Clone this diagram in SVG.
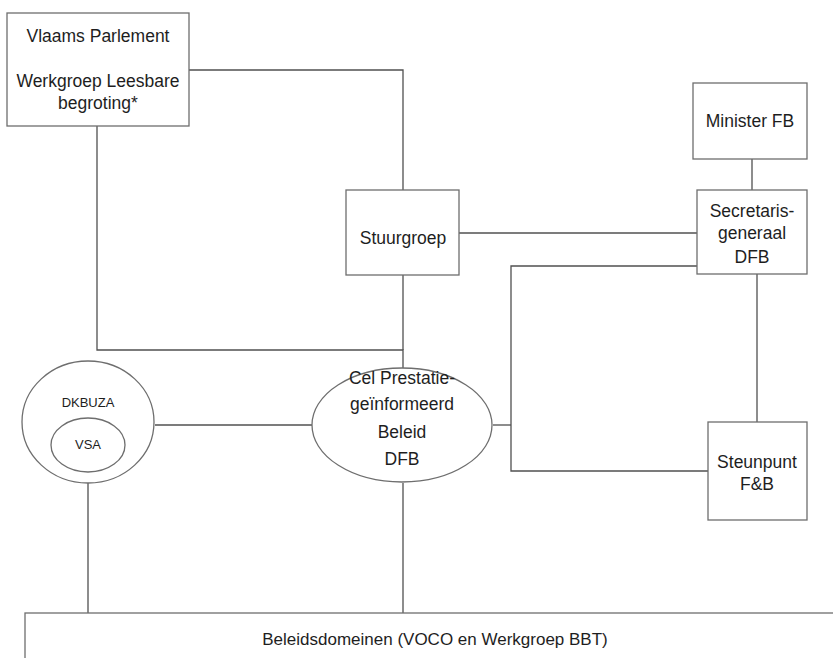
<svg xmlns="http://www.w3.org/2000/svg" width="833" height="658" viewBox="0 0 833 658">
<style>
.box{fill:#fff;stroke:#6e6e6e;stroke-width:1.3}
.ln{fill:none;stroke:#505050;stroke-width:1.3}
text{font-family:"Liberation Sans",Arial,sans-serif;font-size:17.5px;fill:#1e1e1e;text-anchor:middle}
.sm{font-size:13px}
.bt{font-size:17px}
</style>
<rect width="833" height="658" fill="#fff"/>
<g id="connectors">
<polyline class="ln" points="189,70 403,70 403,190"/>
<polyline class="ln" points="97,126 97,350 403,350 403,368"/>
<line class="ln" x1="403" y1="275" x2="403" y2="350"/>
<line class="ln" x1="459" y1="233" x2="697" y2="233"/>
<line class="ln" x1="752" y1="159" x2="752" y2="190"/>
<line class="ln" x1="757" y1="274" x2="757" y2="422"/>
<polyline class="ln" points="697,266 511,266 511,471 708,471"/>
<line class="ln" x1="493" y1="425" x2="511" y2="425"/>
<line class="ln" x1="155" y1="425" x2="312" y2="425"/>
<line class="ln" x1="88" y1="483" x2="88" y2="613"/>
<line class="ln" x1="403" y1="483" x2="403" y2="613"/>
</g>
<g id="vlaams-parlement">
<rect class="box" x="7" y="13" width="182" height="113"/>
<text x="98" y="42">Vlaams Parlement</text>
<text x="98" y="87">Werkgroep Leesbare</text>
<text x="98" y="109">begroting*</text>
</g>
<g id="stuurgroep">
<rect class="box" x="346" y="190" width="113" height="85"/>
<text x="403" y="244">Stuurgroep</text>
</g>
<g id="minister-fb">
<rect class="box" x="693" y="83" width="114" height="76"/>
<text x="750" y="127">Minister FB</text>
</g>
<g id="secretaris-generaal">
<rect class="box" x="697" y="190" width="110" height="84"/>
<text x="752" y="217">Secretaris-</text>
<text x="752" y="239">generaal</text>
<text x="752" y="263">DFB</text>
</g>
<g id="steunpunt">
<rect class="box" x="708" y="422" width="99" height="98"/>
<text x="757" y="468">Steunpunt</text>
<text x="757" y="490">F&amp;B</text>
</g>
<g id="dkbuza">
<ellipse class="box" cx="88" cy="422" rx="66" ry="61"/>
<text class="sm" x="88" y="407">DKBUZA</text>
</g>
<g id="vsa">
<ellipse class="box" cx="88" cy="445" rx="37" ry="27"/>
<text class="sm" x="88" y="449">VSA</text>
</g>
<g id="cel-prestatie">
<ellipse class="box" cx="402" cy="425" rx="90" ry="57"/>
<text x="402" y="384">Cel Prestatie-</text>
<text x="402" y="410">geïnformeerd</text>
<text x="402" y="438">Beleid</text>
<text x="402" y="465">DFB</text>
</g>
<g id="beleidsdomeinen">
<rect class="box" x="25" y="613" width="830" height="60"/>
<text class="bt" x="435" y="645">Beleidsdomeinen (VOCO en Werkgroep BBT)</text>
</g>
</svg>
